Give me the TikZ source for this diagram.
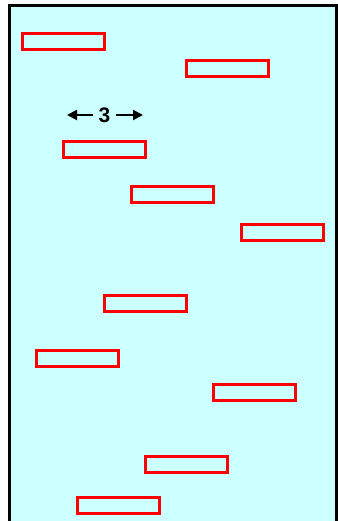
\documentclass[tikz,border=0pt]{standalone}
\usepackage{fontspec}
\setmainfont{Liberation Sans}
\usetikzlibrary{arrows.meta}
\definecolor{paleCyan}{RGB}{204,255,255}

\begin{document}
\begin{tikzpicture}[
            x=1pt, y=-1pt,
            frame/.style={draw=black, fill=paleCyan, line width=3pt},
            bar/.style={rectangle, draw=red, line width=3pt, minimum width=82pt, minimum height=16pt, inner sep=0pt},
            gap/.style={font=\fontsize{21}{23}\selectfont\bfseries, inner sep=5pt},
            span/.style={-{Triangle[length=10pt, width=10pt]}, line width=2pt}
        ]
            \useasboundingbox (0,0) rectangle (337,521);
            \draw[frame] (9.5,5.5) rectangle (336,530);

            % bars
            \node[bar] (b1) at (63,41.5) {};
            \node[bar] (b2) at (227,68.5) {};
            \node[bar] (b3) at (104.5,150) {};
            \node[bar] (b4) at (172.5,194.5) {};
            \node[bar] (b5) at (282,232.5) {};
            \node[bar] (b6) at (145.5,303.5) {};
            \node[bar] (b7) at (77,358.5) {};
            \node[bar] (b8) at (254.5,392) {};
            \node[bar] (b9) at (186.5,464) {};
            \node[bar] (b10) at (118.5,505.5) {};

            % width label
            \node[gap] (w) at (104.5,115) {3};
            \coordinate (wl) at (67,115);
            \coordinate (wr) at (143,115);
            \draw[span] (w.west) -- (wl);
            \draw[span] (w.east) -- (wr);
        \end{tikzpicture}
\end{document}
